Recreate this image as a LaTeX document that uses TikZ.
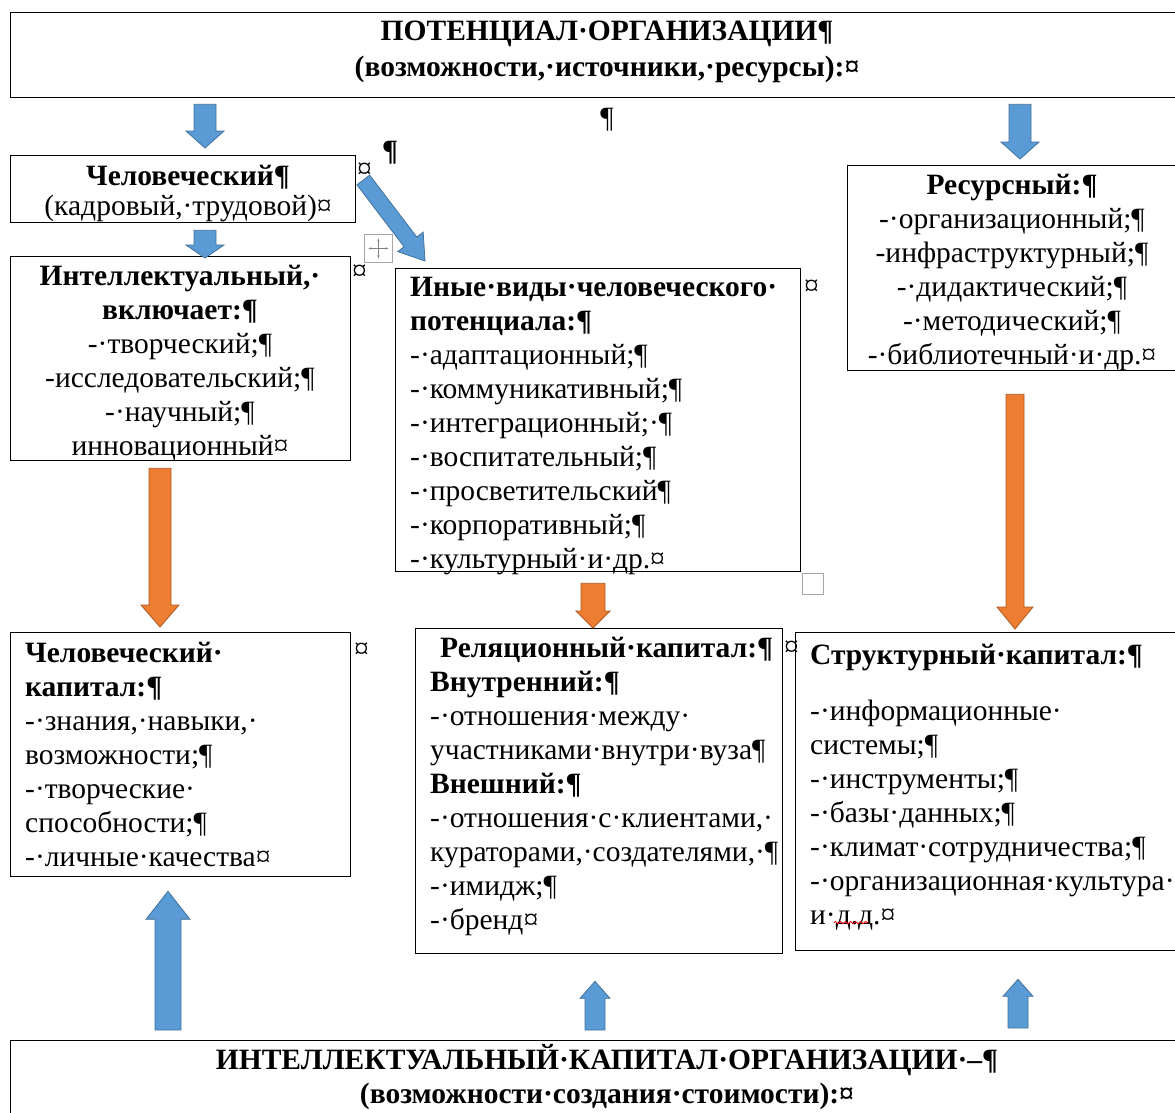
\documentclass[tikz,border=0pt]{standalone}
\usepackage{fontspec}
\setmainfont{Liberation Serif}
\usetikzlibrary{calc,decorations.pathmorphing,arrows.meta}
\definecolor{abl}{HTML}{5B9BD5}
\definecolor{ablb}{HTML}{41719C}
\definecolor{aor}{HTML}{ED7D31}
\definecolor{aorb}{HTML}{AE5A21}
\newcommand{\blockarrow}[6]{%
 \path[#1] let \p1=($(#3)-(#2)$), \n1={atan2(\y1,\x1)}, \n2={veclen(\x1,\y1)} in
 [shift={(#2)},rotate=\n1] (0pt,-#4) -- ({\n2-#6},-#4) -- ({\n2-#6},-#5) -- (\n2,0pt) -- ({\n2-#6},#5) -- ({\n2-#6},#4) -- (0pt,#4) -- cycle;}
\tikzset{
 box/.style={draw, line width=1.3pt, rectangle, inner sep=0pt, anchor=north west},
 txt/.style={font=\fontsize{29.5}{34}\selectfont, inner sep=0pt},
 blu/.style={fill=abl, draw=ablb, line width=0.8pt},
 ora/.style={fill=aor, draw=aorb, line width=0.8pt},
 handle/.style={draw=gray!70, line width=0.8pt, fill=white, rectangle, inner sep=0pt, anchor=north west}
}
\begin{document}
\begin{tikzpicture}[x=1pt,y=-1pt]
\useasboundingbox (0,0) rectangle (1175,1112);
\fill[white] (0,0) rectangle (1175,1112);
% boxes
\node[box, minimum width=1170pt, minimum height=85pt] (top) at (10,12) {};
\node[box, minimum width=345pt, minimum height=67pt] (hum) at (10,155) {};
\node[box, minimum width=340pt, minimum height=204pt] (intl) at (10,256) {};
\node[box, minimum width=405pt, minimum height=303pt] (other) at (395,268) {};
\node[box, minimum width=333pt, minimum height=205pt] (res) at (847,165) {};
\node[box, minimum width=340pt, minimum height=244pt] (hcap) at (10,632) {};
\node[box, minimum width=367pt, minimum height=325pt] (rcap) at (415,628) {};
\node[box, minimum width=385pt, minimum height=318pt] (scap) at (795,632) {};
\node[box, minimum width=1170pt, minimum height=80pt] (bot) at (10,1040) {};
% texts
\node[txt, align=center, anchor=north] (top-t) at (607,16.2) {\strut\textbf{ПОТЕНЦИАЛ·ОРГАНИЗАЦИИ¶}\\[2pt]\strut\textbf{(возможности,·источники,·ресурсы):¤}};
\node[txt, anchor=base] (p1) at (607,127) {¶};
\node[txt, anchor=base] (p2) at (390,160) {\textbf{¶}};
\node[txt, align=center, anchor=north] (hum-t) at (188,161.2) {\strut\textbf{Человеческий¶}\\[-4pt]\strut(кадровый,·трудовой)¤};
\node[txt, anchor=base west] (c1) at (357,178) {¤};
\node[txt, align=center, anchor=north] (intl-t) at (180,261.2) {\strut\textbf{Интеллектуальный,·}\\\strut\textbf{включает:¶}\\\strut-·творческий;¶\\\strut-исследовательский;¶\\\strut-·научный;¶\\\strut инновационный¤};
\node[txt, anchor=base west] (c2) at (352,280) {¤};
\node[txt, align=left, anchor=north west] (other-t) at (410,272.2) {\strut\textbf{Иные·виды·человеческого·}\\\strut\textbf{потенциала:¶}\\\strut-·адаптационный;¶\\\strut-·коммуникативный;¶\\\strut-·интеграционный;·¶\\\strut-·воспитательный;¶\\\strut-·просветительский¶\\\strut-·корпоративный;¶\\\strut-·культурный·и·др.¤};
\node[txt, anchor=base west] (c3) at (804,295) {¤};
\node[txt, align=center, anchor=north] (res-t) at (1012,170.2) {\strut\textbf{Ресурсный:¶}\\\strut-·организационный;¶\\\strut-инфраструктурный;¶\\\strut-·дидактический;¶\\\strut-·методический;¶\\\strut-·библиотечный·и·др.¤};
\node[txt, align=left, anchor=north west] (hcap-t) at (25,638.2) {\strut\textbf{Человеческий·}\\\strut\textbf{капитал:¶}\\\strut-·знания,·навыки,·\\\strut возможности;¶\\\strut-·творческие·\\\strut способности;¶\\\strut-·личные·качества¤};
\node[txt, anchor=base west] (c4) at (354,658) {¤};
\node[txt, align=left, anchor=north west] (rcap-t) at (430,633.2) {\strut\hspace{10pt}\textbf{Реляционный·капитал:¶}\\\strut\textbf{Внутренний:¶}\\\strut-·отношения·между·\\\strut участниками·внутри·вуза¶\\\strut\textbf{Внешний:¶}\\\strut-·отношения·с·клиентами,·\\\strut кураторами,·создателями,·¶\\\strut-·имидж;¶\\\strut-·бренд¤};
\node[txt, anchor=base west] (c5) at (784,656) {¤};
\node[txt, align=left, anchor=north west] (scap-t) at (810,640.2) {\strut\textbf{Структурный·капитал:¶}\\[22pt]\strut-·информационные·\\\strut системы;¶\\\strut-·инструменты;¶\\\strut-·базы·данных;¶\\\strut-·климат·сотрудничества;¶\\\strut-·организационная·культура·\\\strut и·д.д.¤};
\node[txt, align=center, anchor=north] (bot-t) at (607,1044.2) {\strut\textbf{ИНТЕЛЛЕКТУАЛЬНЫЙ·КАПИТАЛ·ОРГАНИЗАЦИИ·–¶}\\\strut\textbf{(возможности·создания·стоимости):¤}};
% spelling squiggle
\coordinate (sq1) at ($(scap-t.south west)+(24,-12)$);
\coordinate (sq2) at ($(sq1)+(34,0)$);
\draw[red, line width=0.8pt, decorate, decoration={snake, amplitude=1.2pt, segment length=5pt}] (sq1) -- (sq2);
% handles
\node[handle, minimum width=28pt, minimum height=28pt] (mv) at (364,234) {};
\draw[gray, line width=0.7pt, {Stealth[length=3pt]}-{Stealth[length=3pt]}] ($(mv.center)+(0,-10)$) -- ($(mv.center)+(0,10)$);
\draw[gray, line width=0.7pt, {Stealth[length=3pt]}-{Stealth[length=3pt]}] ($(mv.center)+(-10,0)$) -- ($(mv.center)+(10,0)$);
\node[handle, minimum width=21pt, minimum height=21pt] (sz) at (802,573) {};
% arrow endpoints
\coordinate (a1s) at ($(top.south west)+(195,6)$);
\coordinate (a1e) at ($(hum.north west)+(195,-7)$);
\coordinate (a2s) at ($(hum.south west)+(195,7)$);
\coordinate (a2e) at ($(intl.north west)+(195,2)$);
\coordinate (a3s) at ($(hum.north east)+(7,25)$);
\coordinate (a3e) at ($(other.north west)+(30,-7)$);
\coordinate (a4s) at ($(top.south west)+(1010,6)$);
\coordinate (a4e) at ($(res.north west)+(173,-6)$);
\coordinate (a5s) at ($(intl.south west)+(150,7)$);
\coordinate (a5e) at ($(hcap.north west)+(150,-5)$);
\coordinate (a6s) at ($(other.south west)+(198,11)$);
\coordinate (a6e) at ($(rcap.north west)+(178,0)$);
\coordinate (a7s) at ($(res.south west)+(168,23)$);
\coordinate (a7e) at ($(scap.north west)+(220,-3)$);
\coordinate (a8s) at ($(bot.north west)+(158,-10)$);
\coordinate (a8e) at ($(hcap.south west)+(158,14)$);
\coordinate (a9s) at ($(bot.north west)+(585,-10)$);
\coordinate (a9e) at ($(rcap.south west)+(180,27)$);
\coordinate (a10s) at ($(bot.north west)+(1008,-12)$);
\coordinate (a10e) at ($(scap.south west)+(223,28)$);
% block arrows
\blockarrow{blu}{a1s}{a1e}{11pt}{19pt}{17pt}
\blockarrow{blu}{a2s}{a2e}{11pt}{19pt}{13pt}
\blockarrow{blu}{a3s}{a3e}{8pt}{16pt}{24pt}
\blockarrow{blu}{a4s}{a4e}{11pt}{19pt}{17pt}
\blockarrow{ora}{a5s}{a5e}{11pt}{19pt}{22pt}
\blockarrow{ora}{a6s}{a6e}{12pt}{17pt}{17pt}
\blockarrow{ora}{a7s}{a7e}{9pt}{18pt}{22pt}
\blockarrow{blu}{a8s}{a8e}{13pt}{22pt}{28pt}
\blockarrow{blu}{a9s}{a9e}{10pt}{15pt}{17pt}
\blockarrow{blu}{a10s}{a10e}{10pt}{15pt}{17pt}
\end{tikzpicture}
\end{document}
